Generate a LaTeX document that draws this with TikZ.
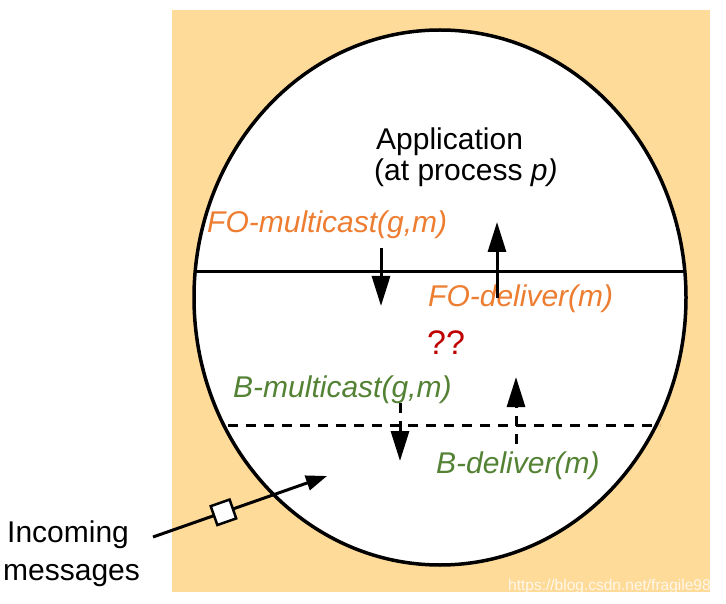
\documentclass[tikz,border=0pt]{standalone}
\usepackage{fontspec}
\setmainfont{Liberation Sans}
\usetikzlibrary{arrows.meta}
\definecolor{panel}{RGB}{255,219,153}
\definecolor{fotext}{RGB}{237,125,49}
\definecolor{btext}{RGB}{84,130,53}
\definecolor{qtext}{RGB}{192,0,0}
\tikzset{
  lbl/.style={anchor=base west, inner sep=0pt, font=\fontsize{30}{34}\selectfont},
  folbl/.style={lbl, text=fotext, font=\fontsize{30}{34}\selectfont\itshape},
  blbl/.style={lbl, text=btext, font=\fontsize{30}{34}\selectfont\itshape},
  layer/.style={line width=3pt},
  bigarrow/.style={line width=3pt, -{Triangle[width=18pt,length=30pt]}},
  dasharrow/.style={bigarrow, dash pattern=on 10pt off 8pt},
  msgbox/.style={draw, fill=white, line width=2.5pt, minimum size=20pt, inner sep=0pt}
}
\begin{document}
\begin{tikzpicture}[x=1pt,y=-1pt]
\useasboundingbox (0,0) rectangle (726,604);
% process panel
\fill[panel] (172,10) rectangle (710,592);
% the process
\draw[line width=3.5pt, fill=white] (440,297.5) ellipse [x radius=246, y radius=267.5];
% layer boundaries
\coordinate (foL) at (194,272);
\coordinate (foR) at (686,272);
\draw[layer] (foL) -- (foR);
\coordinate (bL) at (228,425);
\coordinate (bR) at (660,425);
\draw[layer, dash pattern=on 10pt off 8pt] (bL) -- (bR);
% labels
\node[lbl] (app) at (376,150) {Application};
\node[lbl] (proc) at (374,181) {(at process \textit{p)}};
\node[folbl] (fomc) at (207,233) {FO-multicast(g,m)};
\node[folbl] (fodl) at (428,306) {FO-deliver(m)};
\node[lbl, text=qtext, font=\fontsize{34}{38}\selectfont] (qq) at (427,354) {??};
\node[blbl] (bmc) at (233,397) {B-multicast(g,m)};
\node[blbl] (bdl) at (436,473) {B-deliver(m)};
\node[lbl] (inc) at (7,542) {Incoming};
\node[lbl] (msgs) at (3,580) {messages};
\node[anchor=base west, inner sep=0pt, text=white, opacity=0.8,
      font=\fontsize{15.5}{18}\selectfont] (wm) at (508,590) {https://blog.csdn.net/fragile98};
% calls between layers
\coordinate (fomcA) at (381,248);
\coordinate (fomcB) at (381,306);
\draw[bigarrow] (fomcA) -- (fomcB);
\coordinate (fodlA) at (497,298);
\coordinate (fodlB) at (497,222);
\draw[bigarrow] (fodlA) -- (fodlB);
\coordinate (bmcA) at (400,403);
\coordinate (bmcB) at (400,461);
\draw[dasharrow] (bmcA) -- (bmcB);
\coordinate (bdlA) at (516,444);
\coordinate (bdlB) at (516,377);
\draw[dasharrow] (bdlA) -- (bdlB);
% incoming message
\coordinate (inA) at (153,537);
\coordinate (inB) at (327,476);
\draw[line width=3pt, -{Triangle[width=15pt,length=21pt]}] (inA) -- (inB)
  node[msgbox, sloped, pos=0.405] (msg) {};
\end{tikzpicture}
\end{document}
